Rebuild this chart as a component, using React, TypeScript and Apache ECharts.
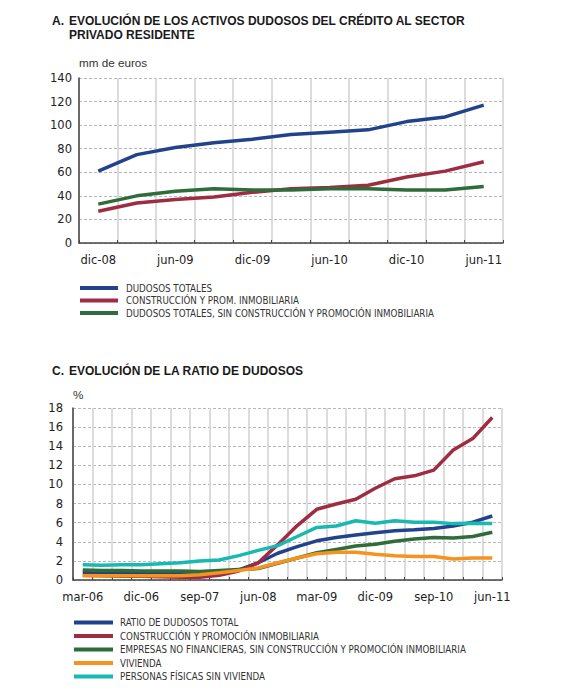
import React, { useEffect, useRef } from 'react';
import * as echarts from 'echarts';

// Gráfico A: activos dudosos (mm de euros), trimestral
const topCategories = ['dic-08', 'mar-09', 'jun-09', 'sep-09', 'dic-09', 'mar-10', 'jun-10', 'sep-10', 'dic-10', 'mar-11', 'jun-11'];
const dudososTotales = [61, 75, 81, 85, 88, 92, 94, 96, 103, 107, 117];
const construccionProm = [27, 34, 37, 39, 43, 46, 47, 49, 56, 61, 69];
const dudososSinConstruccion = [33, 40, 44, 46, 45, 45, 46, 46, 45, 45, 48];

// Gráfico C: ratio de dudosos (%), trimestral
const bottomCategories = [
  'mar-06', 'jun-06', 'sep-06', 'dic-06', 'mar-07', 'jun-07', 'sep-07', 'dic-07',
  'mar-08', 'jun-08', 'sep-08', 'dic-08', 'mar-09', 'jun-09', 'sep-09', 'dic-09',
  'mar-10', 'jun-10', 'sep-10', 'dic-10', 'mar-11', 'jun-11',
];
const ratioTotal = [0.8, 0.75, 0.75, 0.75, 0.75, 0.75, 0.8, 0.85, 1.05, 1.8, 2.8, 3.5, 4.1, 4.45, 4.7, 4.95, 5.15, 5.25, 5.4, 5.65, 6.05, 6.7];
const ratioConstruccion = [0.5, 0.45, 0.4, 0.4, 0.35, 0.3, 0.3, 0.5, 0.95, 1.8, 3.7, 5.7, 7.4, 7.95, 8.45, 9.6, 10.6, 10.9, 11.5, 13.6, 14.8, 17.0];
const ratioEmpresas = [1.05, 1.0, 1.0, 0.95, 0.95, 0.95, 0.9, 1.0, 1.1, 1.2, 1.75, 2.3, 2.85, 3.2, 3.55, 3.75, 4.05, 4.3, 4.45, 4.4, 4.55, 5.0];
const ratioVivienda = [0.45, 0.45, 0.45, 0.45, 0.45, 0.45, 0.55, 0.75, 1.0, 1.25, 1.8, 2.3, 2.75, 2.9, 2.9, 2.7, 2.55, 2.45, 2.45, 2.2, 2.3, 2.3];
const ratioPersonas = [1.6, 1.55, 1.6, 1.6, 1.7, 1.8, 2.0, 2.1, 2.55, 3.1, 3.6, 4.55, 5.5, 5.65, 6.2, 5.95, 6.2, 6.05, 6.05, 5.9, 5.95, 5.9];

const BLUE = '#22438b';
const RED = '#9e2d42';
const GREEN = '#2e6c3a';
const ORANGE = '#f6931f';
const TEAL = '#17b9b1';

const labelFont = "'DejaVu Sans', sans-serif";
const titleFont = "'Liberation Sans', Arial, sans-serif";
const legendFont = "'Liberation Sans Narrow', 'DejaVu Sans Condensed', 'Arial Narrow', sans-serif";

const Chart: React.FC = () => {
  const chartRef = useRef<HTMLDivElement | null>(null);

  useEffect(() => {
    if (!chartRef.current) return;
    const myChart = echarts.init(chartRef.current, undefined, { renderer: 'svg' });

    const titleStyle = { fontFamily: titleFont, fontSize: 12, fontWeight: 'bold' as const, color: '#1a1a1a', lineHeight: 14 };

    const yAxisBase = (index: number) => ({
      type: 'value' as const,
      gridIndex: index,
      axisLine: { show: true, lineStyle: { color: '#444', width: 1.5 } },
      axisTick: { show: false },
      splitLine: { lineStyle: { color: '#b8b8b8', width: 1, type: [3, 2] } },
    });

    const xAxisBase = (index: number, data: string[], labelInterval: number) => ({
      type: 'category' as const,
      gridIndex: index,
      data,
      boundaryGap: true,
      axisLine: { lineStyle: { color: '#444', width: 1.5 } },
      axisTick: { show: true, inside: true, length: 3, interval: 0, lineStyle: { color: '#444' } },
      splitLine: { show: true, interval: 0, lineStyle: { color: '#d0d0d0', width: 1.5 } },
      axisLabel: { interval: labelInterval, margin: 11, fontFamily: labelFont, fontSize: 11.5, color: '#222' },
    });

    const line = (name: string, data: number[], color: string, idx: number) => ({
      name,
      type: 'line' as const,
      xAxisIndex: idx,
      yAxisIndex: idx,
      data,
      symbol: 'none',
      lineStyle: { color, width: 3.5 },
      itemStyle: { color },
    });

    const legendText = { fontFamily: legendFont, fontSize: 9.7, color: '#333', lineHeight: 12 };

    const option: echarts.EChartsOption = {
      animation: false,
      backgroundColor: '#fff',
      title: [
        { text: 'A.', left: 52, top: 14, padding: 0, textStyle: titleStyle },
        {
          text: 'EVOLUCIÓN DE LOS ACTIVOS DUDOSOS DEL CRÉDITO AL SECTOR\nPRIVADO RESIDENTE',
          left: 69, top: 14, padding: 0, textStyle: titleStyle,
        },
        { text: 'C.', left: 52, top: 364, padding: 0, textStyle: titleStyle },
        { text: 'EVOLUCIÓN DE LA RATIO DE DUDOSOS', left: 69, top: 364, padding: 0, textStyle: titleStyle },
      ],
      grid: [
        { left: 79, right: 81, top: 78, bottom: 450 },
        { left: 73, right: 82, top: 408, bottom: 113 },
      ],
      legend: [
        {
          data: ['DUDOSOS TOTALES', 'CONSTRUCCIÓN Y PROM. INMOBILIARIA', 'DUDOSOS TOTALES, SIN CONSTRUCCIÓN Y PROMOCIÓN INMOBILIARIA'],
          orient: 'vertical', left: 80, top: 282, padding: 0, itemGap: 0.5,
          icon: 'rect', itemWidth: 38, itemHeight: 4, selectedMode: false,
          textStyle: { ...legendText, padding: [0, 0, 0, 3] },
        },
        {
          data: [
            'RATIO DE DUDOSOS TOTAL', 'CONSTRUCCIÓN Y PROMOCIÓN INMOBILIARIA',
            'EMPRESAS NO FINANCIERAS, SIN CONSTRUCCIÓN Y PROMOCIÓN INMOBILIARIA', 'VIVIENDA', 'PERSONAS FÍSICAS SIN VIVIENDA',
          ],
          orient: 'vertical', left: 74, top: 616.5, padding: 0, itemGap: 1.5,
          icon: 'rect', itemWidth: 39, itemHeight: 4, selectedMode: false,
          textStyle: { ...legendText, padding: [0, 0, 0, 2] },
        },
      ],
      xAxis: [
        xAxisBase(0, topCategories, 1),
        xAxisBase(1, bottomCategories, 2),
      ],
      yAxis: [
        {
          ...yAxisBase(0), min: 0, max: 140, interval: 20,
          name: 'mm de euros', nameLocation: 'end', nameGap: 10,
          nameTextStyle: { align: 'left', fontFamily: titleFont, fontSize: 11.7, color: '#333' },
          axisLabel: { margin: 7, fontFamily: labelFont, fontSize: 11.5, color: '#222' },
        },
        {
          ...yAxisBase(1), min: 0, max: 18, interval: 2,
          name: '%', nameLocation: 'end', nameGap: 8,
          nameTextStyle: { align: 'left', fontFamily: titleFont, fontSize: 11.7, color: '#333' },
          axisLabel: { margin: 10, fontFamily: labelFont, fontSize: 11.5, color: '#222' },
        },
      ],
      series: [
        line('DUDOSOS TOTALES', dudososTotales, BLUE, 0),
        line('CONSTRUCCIÓN Y PROM. INMOBILIARIA', construccionProm, RED, 0),
        line('DUDOSOS TOTALES, SIN CONSTRUCCIÓN Y PROMOCIÓN INMOBILIARIA', dudososSinConstruccion, GREEN, 0),
        line('RATIO DE DUDOSOS TOTAL', ratioTotal, BLUE, 1),
        line('CONSTRUCCIÓN Y PROMOCIÓN INMOBILIARIA', ratioConstruccion, RED, 1),
        line('EMPRESAS NO FINANCIERAS, SIN CONSTRUCCIÓN Y PROMOCIÓN INMOBILIARIA', ratioEmpresas, GREEN, 1),
        line('VIVIENDA', ratioVivienda, ORANGE, 1),
        line('PERSONAS FÍSICAS SIN VIVIENDA', ratioPersonas, TEAL, 1),
      ],
    };

    myChart.setOption(option);

    return () => {
      myChart.dispose();
    };
  }, []);

  return (
    <div
      ref={chartRef}
      style={{ position: 'absolute', left: 0, top: 0, width: '584px', height: '693px' }}
    />
  );
};

export default function App() {
  return <Chart />;
}
